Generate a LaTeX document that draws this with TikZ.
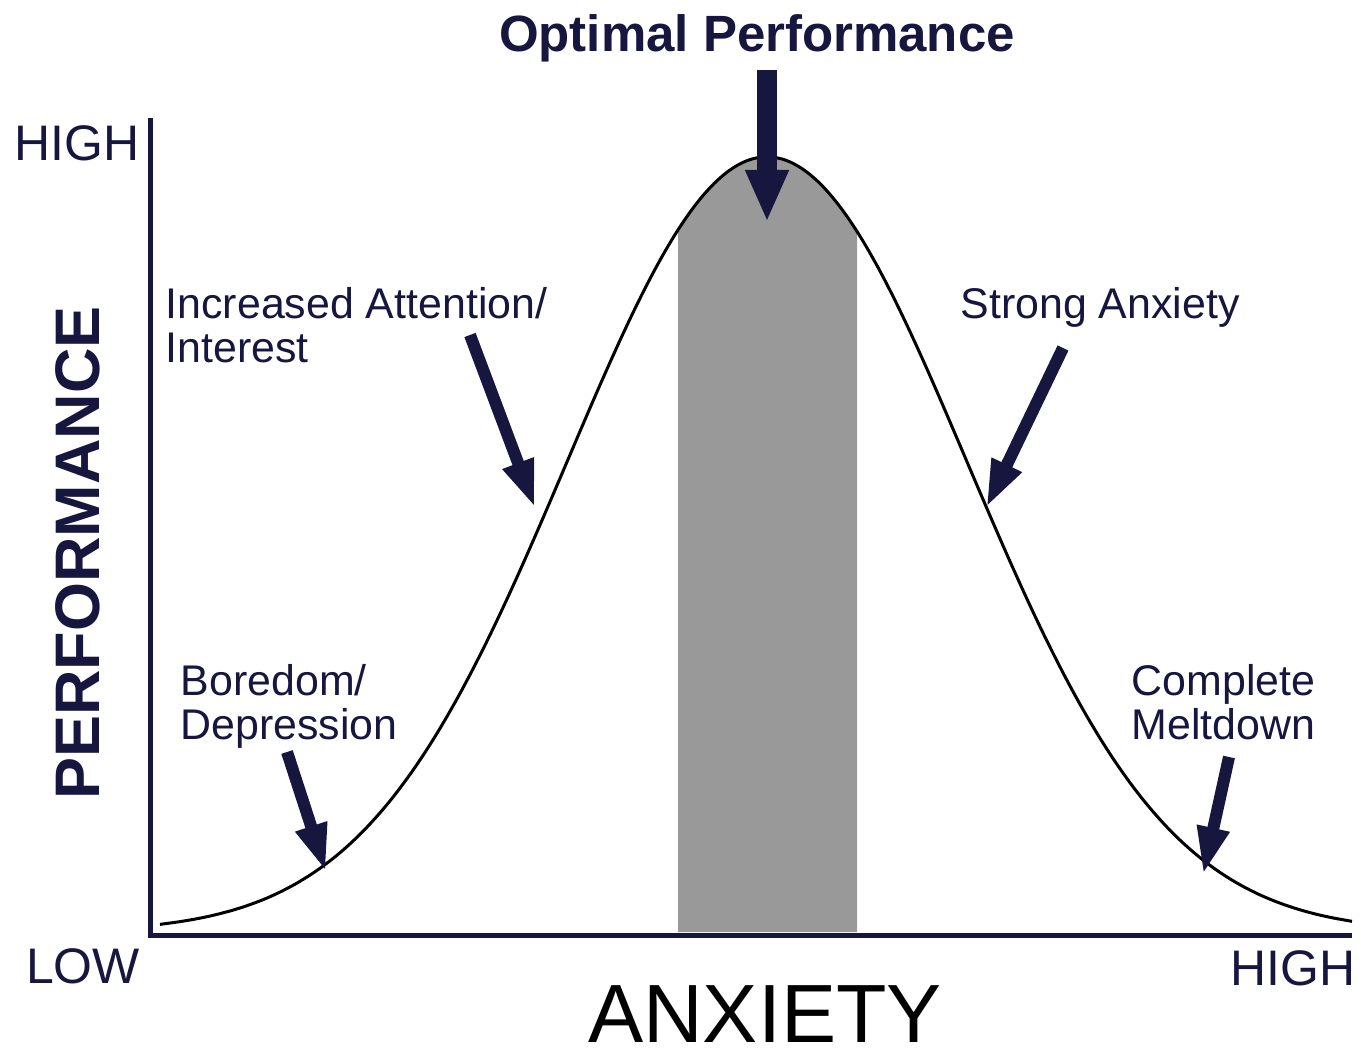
\documentclass[tikz,border=0pt]{standalone}
\usepackage{fontspec}
\setmainfont{Liberation Sans}
\usepackage{xcolor}
\usetikzlibrary{arrows.meta}
\definecolor{navy}{HTML}{16163E}
\definecolor{bandgray}{HTML}{999999}

\begin{document}
\begin{tikzpicture}[x=0.01cm, y=-0.01cm,
    pointer/.style={navy, line width=0.12cm, -{Triangle[length=0.48cm, width=0.3cm]}},
    bigpointer/.style={navy, line width=0.2cm, -{Triangle[length=0.52cm, width=0.4cm]}},
    label/.style={navy, inner sep=0pt, font=\fontsize{12.2}{12.5}\selectfont},
    ends/.style={navy, inner sep=0pt, font=\fontsize{14.2}{16}\selectfont}]
    \useasboundingbox (0,0) rectangle (1361,1055);
    % shaded optimal zone and the curve
    \fill[bandgray] (678,932) -- plot[domain=678:857, samples=40]
        (\x, {932 - 775*exp(-0.5*((\x-767)/200)^2)}) -- (857,932) -- cycle;
    \draw[black, line width=0.03cm] plot[domain=160:1352, samples=200, smooth]
        (\x, {932 - 775*exp(-0.5*((\x-767)/200)^2)});
    % axes
    \coordinate (top) at (150,118);
    \coordinate (origin) at (150,935);
    \coordinate (right) at (1352,935);
    \draw[navy, line width=0.05cm] (top) -- (origin) -- (right);
    \node[ends] (high1) at (77,143) {HIGH};
    \node[ends] (low) at (83,966) {LOW};
    \node[ends] (high2) at (1293,968) {HIGH};
    \node[navy, rotate=90, font=\fontsize{17.9}{20}\selectfont\bfseries] (perf) at (78,553) {PERFORMANCE};
    \node[black, inner sep=0pt, anchor=base, font=\fontsize{23.5}{26}\selectfont] (anx) at (765,1042) {ANXIETY};
    % labels
    \node[navy, font=\fontsize{14.5}{17}\selectfont\bfseries] (optimal) at (757,38) {Optimal Performance};
    \node[label, anchor=north west, align=left] (attention) at (165,287) {Increased Attention/\\Interest};
    \node[label, anchor=base west] (strong) at (960,319) {Strong Anxiety};
    \node[label, anchor=north west, align=left] (boredom) at (180,664) {Boredom/\\Depression};
    \node[label, anchor=north east, align=center] (meltdown) at (1316,664) {Complete\\Meltdown};
    % arrows
    \coordinate (optTail) at (767,70);   \coordinate (optTip) at (767,222);
    \coordinate (attTail) at (470,335);  \coordinate (attTip) at (535,508);
    \coordinate (borTail) at (287,752);  \coordinate (borTip) at (326,872);
    \coordinate (strTail) at (1063,348); \coordinate (strTip) at (986,508);
    \coordinate (melTail) at (1229,757); \coordinate (melTip) at (1203,875);
    \draw[bigpointer] (optTail) -- (optTip);
    \draw[pointer] (attTail) -- (attTip);
    \draw[pointer] (borTail) -- (borTip);
    \draw[pointer] (strTail) -- (strTip);
    \draw[pointer] (melTail) -- (melTip);
\end{tikzpicture}
\end{document}
